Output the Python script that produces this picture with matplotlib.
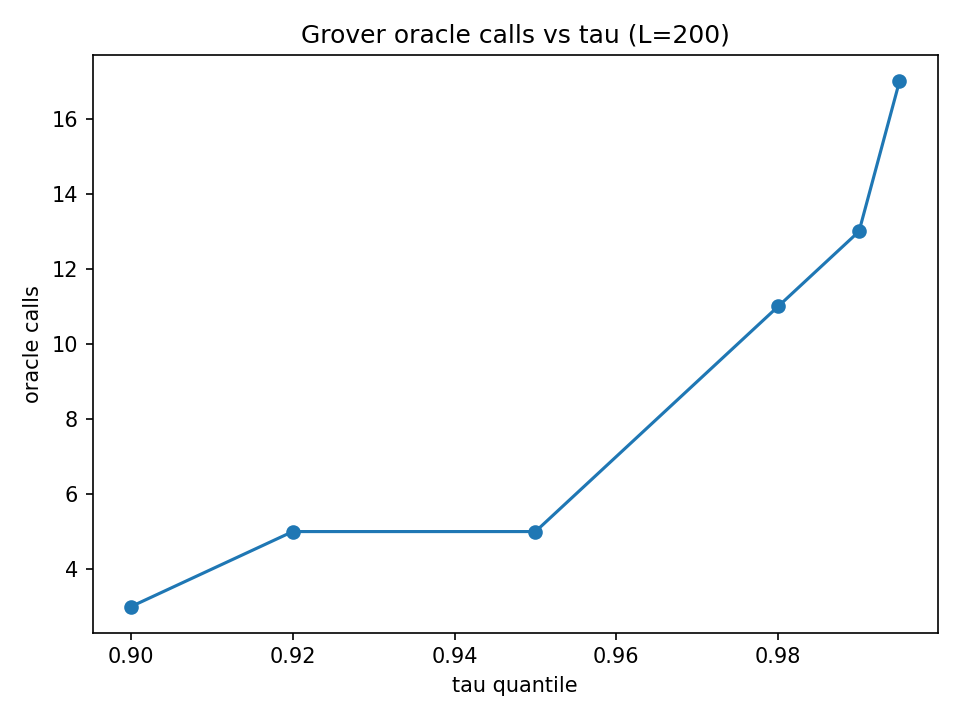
import matplotlib
matplotlib.use("Agg")
import matplotlib.pyplot as plt

# tau quantiles and the Grover oracle calls needed at each one
tau = [0.90, 0.92, 0.95, 0.98, 0.99, 0.995]
oracle_calls = [3, 5, 5, 11, 13, 17]

fig, ax = plt.subplots(figsize=(6.4, 4.8), dpi=150)
ax.plot(tau, oracle_calls, marker="o")
ax.set_xlabel("tau quantile")
ax.set_ylabel("oracle calls")
ax.set_title("Grover oracle calls vs tau (L=200)")

fig.subplots_adjust(left=0.0964, right=0.977, top=0.9236, bottom=0.121)
plt.savefig("out.png", dpi=150)
